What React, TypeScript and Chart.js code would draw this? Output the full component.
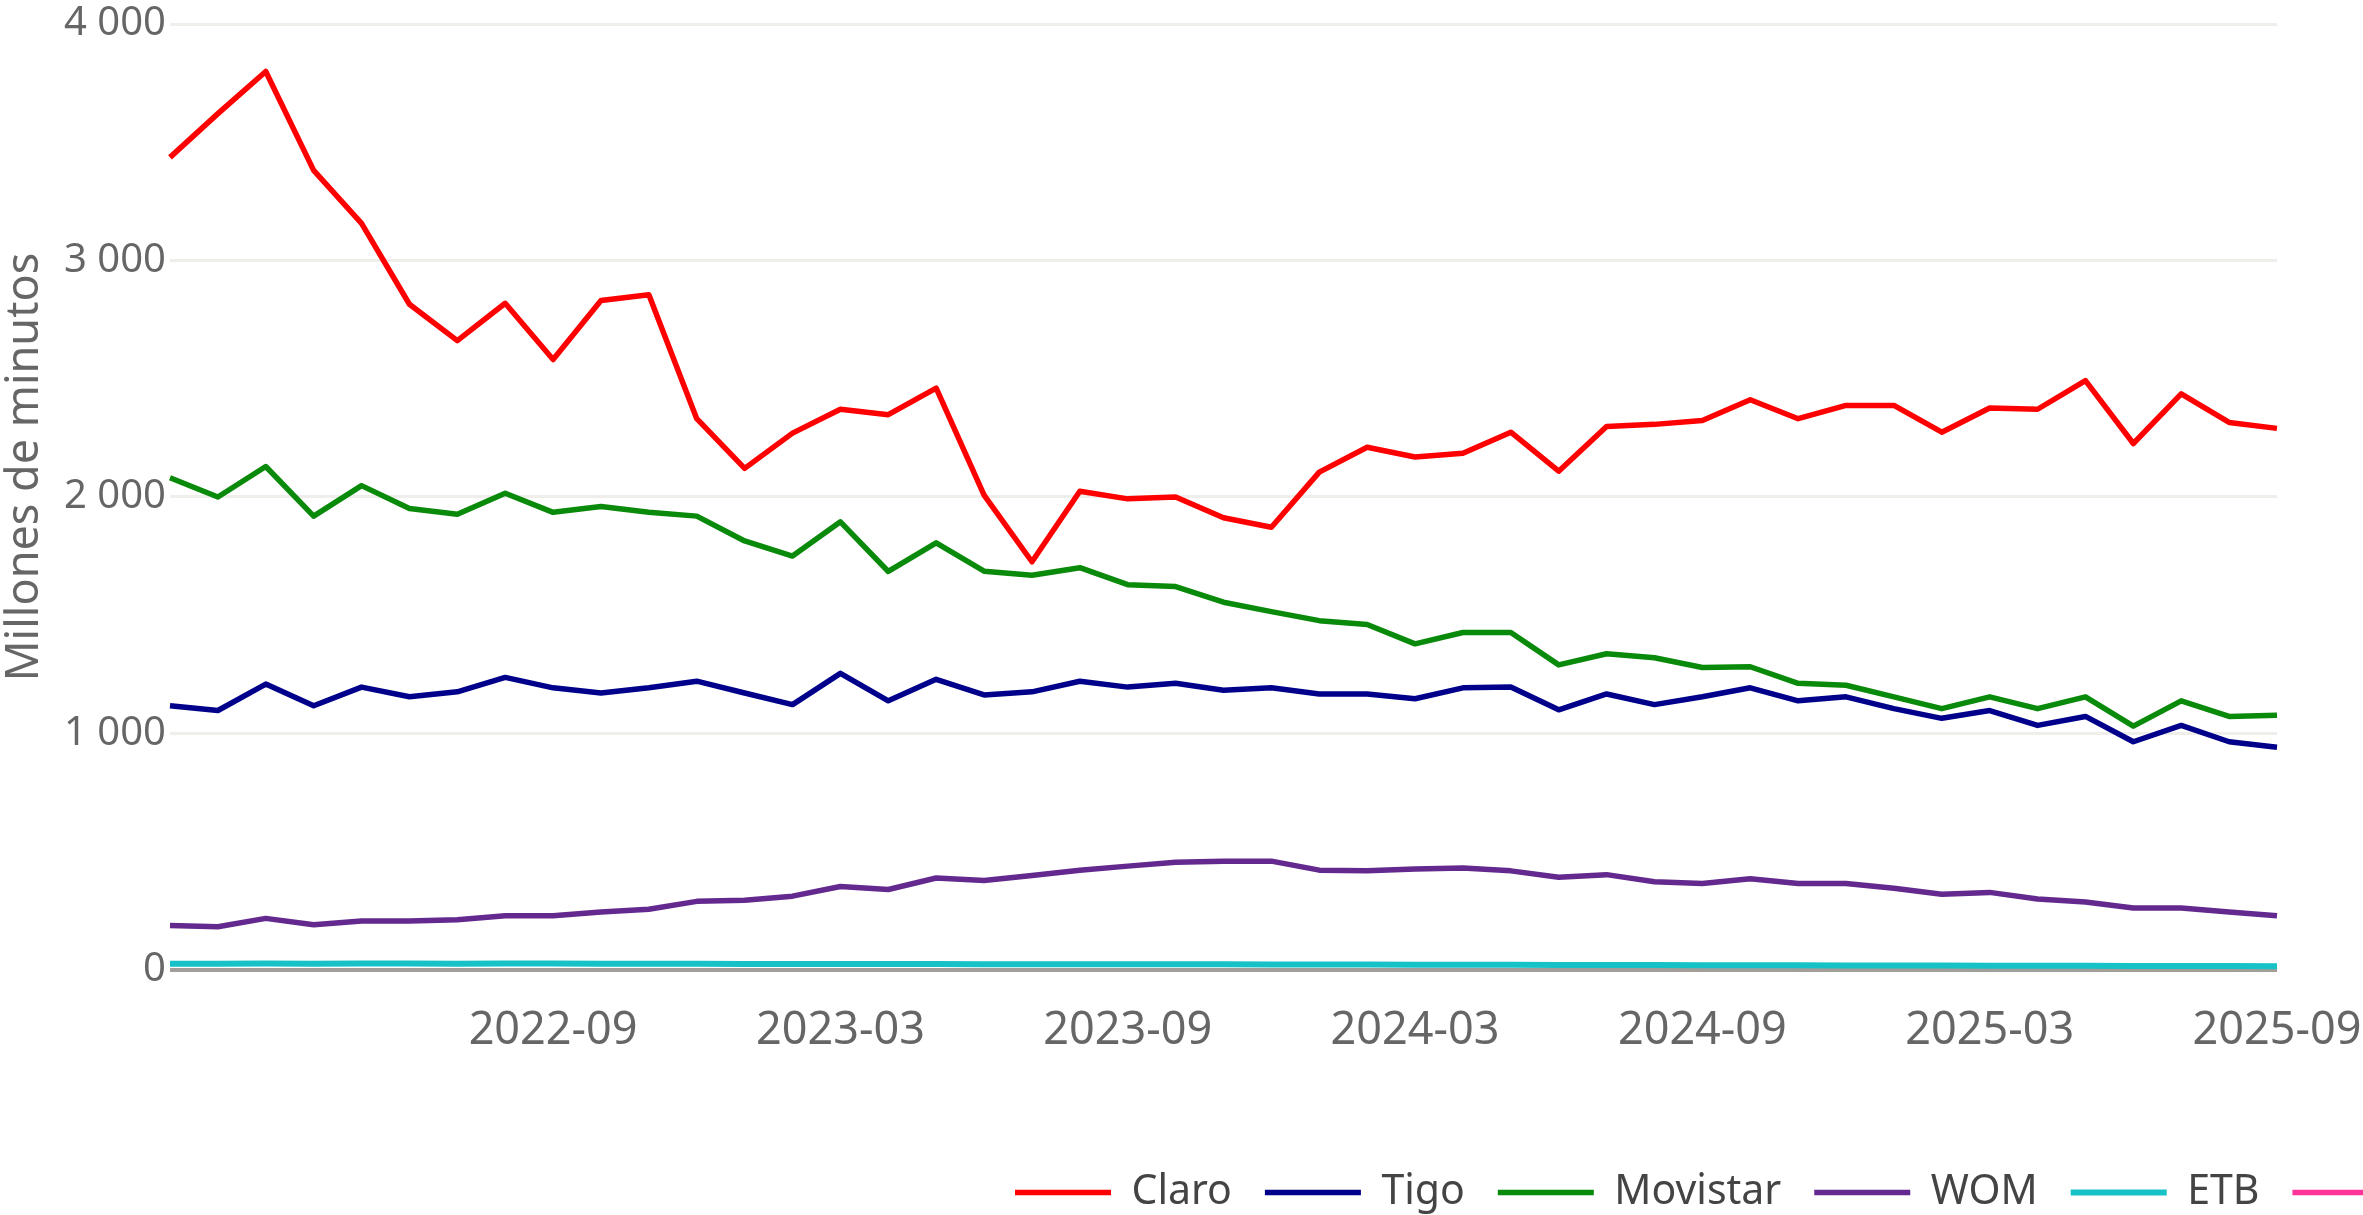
import React, { useEffect, useRef } from 'react';
import { Chart, registerables } from 'chart.js';

Chart.register(...registerables);

const months = [
  '2022-01', '2022-02', '2022-03', '2022-04', '2022-05', '2022-06', '2022-07', '2022-08', '2022-09', '2022-10', '2022-11', '2022-12',
  '2023-01', '2023-02', '2023-03', '2023-04', '2023-05', '2023-06', '2023-07', '2023-08', '2023-09', '2023-10', '2023-11', '2023-12',
  '2024-01', '2024-02', '2024-03', '2024-04', '2024-05', '2024-06', '2024-07', '2024-08', '2024-09', '2024-10', '2024-11', '2024-12',
  '2025-01', '2025-02', '2025-03', '2025-04', '2025-05', '2025-06', '2025-07', '2025-08', '2025-09',
];

const xTickLabels = ['2022-09', '2023-03', '2023-09', '2024-03', '2024-09', '2025-03', '2025-09'];
const yTickValues = [0, 1000, 2000, 3000, 4000];
const yTickLabels = ['0', '1 000', '2 000', '3 000', '4 000'];
const yTitle = 'Millones de minutos';

const claro = [
  3436, 3621, 3799, 3381, 3157, 2815, 2661, 2819, 2581, 2831, 2855, 2331,
  2121, 2270, 2371, 2348, 2460, 2008, 1726, 2024, 1992, 2000, 1912, 1872,
  2105, 2210, 2169, 2185, 2274, 2109, 2298, 2307, 2323, 2411, 2331, 2387,
  2387, 2274, 2376, 2371, 2492, 2226, 2436, 2315, 2290,
];
const tigo = [
  1117, 1097, 1209, 1117, 1196, 1155, 1176, 1237, 1193, 1171, 1193, 1221,
  1171, 1122, 1254, 1138, 1229, 1163, 1176, 1221, 1196, 1212, 1183, 1193,
  1167, 1167, 1147, 1193, 1196, 1100, 1167, 1122, 1155, 1193, 1138, 1155,
  1105, 1064, 1097, 1034, 1072, 965, 1034, 965, 942,
];
const movistar = [
  2081, 2000, 2129, 1919, 2048, 1951, 1927, 2016, 1935, 1960, 1935, 1919,
  1814, 1750, 1895, 1685, 1806, 1686, 1669, 1701, 1629, 1621, 1555, 1515,
  1477, 1461, 1379, 1427, 1427, 1290, 1337, 1320, 1279, 1282, 1212, 1204,
  1155, 1105, 1155, 1105, 1155, 1031, 1138, 1072, 1077,
];
const wom = [
  188, 183, 218, 191, 207, 207, 212, 229, 229, 245, 257, 290,
  295, 312, 353, 340, 389, 378, 399, 422, 439, 455, 460, 460,
  422, 419, 427, 431, 419, 392, 403, 373, 366, 386, 366, 366,
  345, 320, 328, 300, 287, 262, 262, 245, 229,
];
const etb = [
  26, 26, 27, 26, 27, 27, 26, 27, 27, 26, 26, 26,
  25, 25, 25, 25, 25, 24, 24, 24, 24, 24, 24, 23,
  23, 23, 22, 22, 22, 21, 21, 21, 20, 20, 20, 19,
  19, 19, 18, 18, 18, 17, 17, 17, 16,
];
const otros: (number | null)[] = months.map(() => null);

const seriesNames = ['Claro', 'Tigo', 'Movistar', 'WOM', 'ETB', 'Otros'];
const seriesColors = ['#ff0000', '#00008b', '#0a8a0a', '#64298f', '#16c2c6', '#ff3399'];
const seriesValues = [claro, tigo, movistar, wom, etb, otros];

const FONT = 'Noto Sans';
const CANVAS_W = 2400;
const CANVAS_H = 1223;

const legendShift = {
  id: 'legendShift',
  afterLayout(chart: any) {
    const lg = chart.legend;
    if (!lg) return;
    const left = 1015 - lg.options.labels.padding;
    lg.left = left;
    lg.right = left + 5000;
    lg.width = 5000;
  },
};

const yTitlePlugin = {
  id: 'yTitlePlugin',
  afterDraw(chart: any) {
    const ctx = chart.ctx;
    ctx.save();
    ctx.translate(38, 467);
    ctx.rotate(-Math.PI / 2);
    ctx.font = `45px "${FONT}"`;
    ctx.fillStyle = '#666666';
    ctx.textAlign = 'center';
    ctx.textBaseline = 'alphabetic';
    ctx.fillText(yTitle, 0, 0);
    ctx.restore();
  },
};

export default function App() {
  const ref = useRef<HTMLCanvasElement | null>(null);

  useEffect(() => {
    if (!ref.current) return;
    const chart = new Chart(ref.current, {
      type: 'line',
      data: {
        labels: months,
        datasets: seriesNames.map((name, i) => ({
          label: name,
          data: seriesValues[i],
          borderColor: seriesColors[i],
          backgroundColor: seriesColors[i],
          borderWidth: i === 4 ? 6 : 5.5,
          pointRadius: 0,
          pointHoverRadius: 0,
          tension: 0,
          fill: false,
          borderJoinStyle: 'round',
          borderCapStyle: 'butt',
        })),
      },
      options: {
        responsive: false,
        maintainAspectRatio: false,
        devicePixelRatio: 1,
        animation: false,
        layout: { padding: { left: 0, right: 123, top: 0, bottom: 0 } },
        plugins: {
          tooltip: { enabled: false },
          title: { display: false },
          legend: {
            position: 'bottom',
            align: 'start',
            labels: {
              usePointStyle: true,
              pointStyle: 'line',
              pointStyleWidth: 96,
              padding: 33,
              color: '#444444',
              font: { family: FONT, size: 41 },
            },
          },
        },
        scales: {
          x: {
            type: 'category',
            offset: false,
            grid: { display: false, drawTicks: false },
            border: { display: false },
            ticks: {
              autoSkip: false,
              maxRotation: 0,
              minRotation: 0,
              padding: 0,
              color: '#666666',
              font: { family: FONT, size: 45 },
              callback: (_v: any, i: number) => (xTickLabels.includes(months[i]) ? months[i] : ''),
            },
            afterFit: (s: any) => {
              s.height = 135;
            },
          },
          y: {
            type: 'linear',
            min: -144,
            max: 4000,
            grid: {
              drawTicks: false,
              color: (c: any) => (c.tick && c.tick.value === 0 ? '#a29e9a' : '#efeeea'),
              lineWidth: (c: any) => (c.tick && c.tick.value === 0 ? 4 : 3),
            },
            border: { display: false },
            ticks: {
              padding: 4,
              color: '#666666',
              font: { family: FONT, size: 40, lineHeight: 1 },
              callback: (v: any) => {
                const k = yTickValues.indexOf(Number(v));
                return k >= 0 ? yTickLabels[k] : '';
              },
            },
            afterBuildTicks: (s: any) => {
              s.ticks = yTickValues.map((v) => ({ value: v }));
            },
            afterFit: (s: any) => {
              s.width = 170;
            },
          },
        },
      } as any,
      plugins: [legendShift, yTitlePlugin],
    });
    return () => chart.destroy();
  }, []);

  return (
    <div
      style={{
        position: 'fixed',
        left: 0,
        top: 0,
        width: 2363,
        height: 1215,
        overflow: 'hidden',
        background: '#ffffff',
      }}
    >
      <canvas
        ref={ref}
        width={CANVAS_W}
        height={CANVAS_H}
        style={{ display: 'block', width: CANVAS_W, height: CANVAS_H }}
      />
    </div>
  );
}
